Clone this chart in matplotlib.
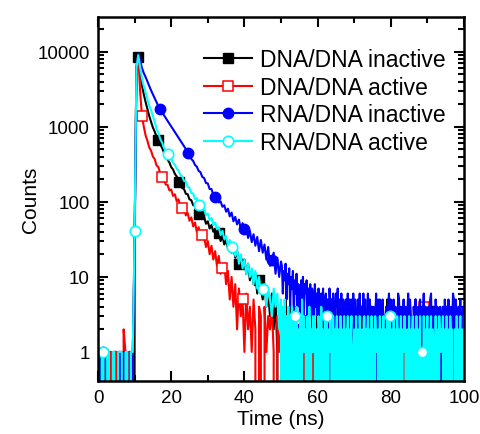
import numpy as np
import matplotlib
matplotlib.use("Agg")
import matplotlib.pyplot as plt
from matplotlib.ticker import FixedLocator, FixedFormatter, LogLocator, NullFormatter

plt.rcParams['font.family'] = ['Liberation Sans', 'DejaVu Sans']

# time axis: 0.5 ns bins up to 50 ns, 0.25 ns bins from 50 to 100 ns
time_ns = np.concatenate([np.arange(101) * 0.5, 50 + np.arange(1, 201) * 0.25])

dna_dna_inactive = [
    0, 1, 1, 0, 1, 1, 0, 1, 0, 1,
    1, 0, 1, 1, 0, 1, 0, 1, 1, 0,
    35, 6000, 8600, 5500, 3580, 2720, 2140, 1720, 1390, 1160,
    975, 860, 735, 675, 585, 525, 455, 415, 365, 335,
    290, 270, 236, 218, 185, 178, 152, 148, 128, 126,
    108, 105, 90, 88, 74, 68, 70, 59, 63, 51,
    55, 44, 49, 40, 43, 35, 39, 30, 35, 27,
    31, 24, 28, 21, 25, 18, 22, 15, 19, 13,
    17, 11, 15, 9, 12, 8, 11, 6, 9, 7,
    5, 8, 4, 6, 3, 6, 2, 5, 1, 0,
    4,
    4, 0, 3, 1, 5, 0, 3, 2, 0, 4,
    1, 3, 0, 2, 4, 0, 3, 1, 2, 0,
    3, 0, 2, 4, 0, 1, 3, 0, 2, 5,
    0, 2, 1, 3, 0, 4, 0, 2, 1, 3,
    0, 0, 2, 3, 0, 1, 4, 0, 2, 1,
    3, 0, 2, 0, 5, 1, 0, 3, 1, 2,
    0, 4, 1, 0, 2, 3, 0, 1, 2, 0,
    3, 1, 0, 2, 4, 0, 1, 3, 0, 2,
    1, 0, 3, 2, 0, 0, 2, 4, 0, 1,
    3, 0, 2, 1, 0, 5, 1, 2, 0, 3,
    0, 2, 1, 3, 0, 2, 4, 0, 1, 2,
    0, 3, 1, 0, 2, 5, 0, 2, 1, 3,
    0, 2, 4, 0, 1, 3, 0, 2, 1, 0,
    3, 1, 0, 2, 4, 0, 2, 1, 3, 0,
    2, 0, 1, 3, 0, 2, 5, 0, 1, 2,
    0, 0, 3, 1, 2, 0, 4, 1, 0, 2,
    3, 0, 1, 2, 0, 4, 0, 2, 3, 1,
    0, 2, 0, 0, 3, 1, 2, 0, 4, 1,
    0, 3, 2, 0, 1, 2, 0, 5, 1, 0,
    2, 3, 0, 1, 2, 0, 3, 1, 0, 2]

dna_dna_active = [
    1, 0, 0, 1, 1, 0, 1, 1, 0, 1,
    1, 0, 1, 0, 2, 1, 0, 1, 0, 1,
    30, 6500, 8800, 3000, 1400, 1010, 770, 650, 530, 480,
    400, 370, 305, 290, 238, 212, 200, 170, 168, 142,
    146, 120, 126, 102, 108, 86, 82, 80, 66, 71,
    56, 62, 47, 53, 40, 46, 33, 36, 34, 25,
    30, 20, 26, 17, 22, 14, 19, 11, 13, 15,
    8, 12, 5, 10, 4, 8, 2, 7, 3, 5,
    1, 6, 2, 4, 1, 5, 2, 0, 4, 3,
    0, 4, 1, 3, 2, 4, 1, 0, 3, 1,
    2,
    1, 0, 2, 0, 1, 3, 0, 2, 1, 0,
    2, 0, 1, 3, 0, 2, 1, 0, 2, 0,
    1, 2, 0, 0, 1, 3, 0, 2, 0, 1,
    0, 2, 1, 0, 3, 0, 1, 2, 0, 1,
    2, 0, 1, 0, 2, 0, 3, 1, 0, 2,
    0, 1, 2, 0, 1, 0, 3, 0, 2, 1,
    0, 2, 0, 1, 3, 0, 1, 0, 2, 0,
    1, 2, 0, 3, 0, 1, 0, 2, 1, 0,
    2, 0, 1, 0, 3, 1, 0, 2, 1, 0,
    2, 1, 0, 2, 0, 1, 3, 0, 1, 0,
    2, 0, 1, 2, 0, 3, 0, 1, 0, 2,
    1, 0, 2, 0, 1, 3, 0, 2, 0, 1,
    0, 2, 1, 0, 3, 0, 1, 2, 0, 1,
    0, 2, 1, 0, 2, 0, 1, 3, 0, 1,
    2, 0, 1, 0, 2, 1, 0, 3, 0, 1,
    0, 2, 1, 3, 0, 4, 0, 1, 2, 0,
    1, 0, 2, 1, 0, 3, 0, 1, 2, 0,
    1, 2, 0, 1, 0, 2, 3, 0, 1, 0,
    2, 1, 0, 2, 0, 1, 3, 0, 2, 0,
    1, 0, 2, 1, 0, 3, 1, 0, 2, 0]

rna_dna_inactive = [
    0, 1, 1, 1, 0, 1, 1, 0, 1, 1,
    0, 1, 1, 0, 1, 1, 1, 0, 0, 1,
    25, 5500, 9500, 7600, 6100, 5200, 4600, 4000, 3500, 3050,
    2700, 2400, 2100, 1880, 1700, 1560, 1430, 1310, 1200, 1100,
    1010, 925, 850, 780, 715, 655, 600, 550, 505, 450,
    418, 372, 350, 310, 294, 258, 248, 214, 208, 178,
    176, 148, 148, 124, 117, 112, 98, 101, 86, 90,
    74, 81, 64, 72, 55, 63, 50, 58, 44, 52,
    43, 46, 33, 41, 29, 37, 26, 34, 22, 31,
    21, 27, 17, 25, 14, 17, 21, 11, 18, 10,
    16,
    14, 6, 12, 9, 15, 5, 11, 8, 13, 4,
    10, 7, 12, 3, 9, 6, 11, 4, 8, 7,
    2, 9, 5, 10, 3, 8, 6, 9, 2, 7,
    5, 8, 3, 7, 6, 2, 8, 4, 6, 3,
    7, 5, 2, 6, 4, 7, 1, 5, 6, 3,
    5, 0, 7, 3, 5, 2, 6, 4, 1, 6,
    4, 7, 2, 5, 3, 6, 0, 5, 4, 2,
    5, 3, 6, 1, 5, 3, 5, 2, 6, 0,
    5, 3, 0, 5, 2, 6, 1, 4, 3, 6,
    2, 5, 0, 3, 6, 1, 5, 3, 4, 2,
    4, 1, 3, 6, 0, 5, 2, 5, 3, 1,
    5, 2, 0, 3, 4, 1, 4, 6, 2, 5,
    3, 0, 5, 2, 4, 3, 1, 6, 5, 2,
    4, 0, 3, 5, 2, 4, 1, 3, 6, 2,
    5, 3, 1, 0, 4, 2, 5, 3, 0, 4,
    3, 5, 1, 4, 2, 6, 0, 4, 3, 1,
    4, 2, 5, 6, 1, 3, 4, 0, 5, 2,
    4, 3, 1, 4, 3, 0, 4, 2, 5, 3,
    4, 1, 5, 3, 0, 4, 2, 6, 5, 1,
    5, 3, 0, 4, 2, 5, 1, 3, 4, 2]

rna_dna_active = [
    1, 0, 1, 1, 0, 1, 1, 0, 1, 1,
    0, 1, 1, 1, 0, 1, 1, 0, 1, 1,
    41, 6000, 9000, 6300, 4400, 3480, 2920, 2340, 1890, 1660,
    1390, 1160, 930, 830, 690, 615, 530, 485, 437, 395,
    372, 330, 312, 276, 262, 228, 219, 190, 186, 158,
    154, 131, 129, 108, 112, 91, 93, 78, 80, 66,
    70, 57, 61, 49, 53, 43, 46, 36, 41, 32,
    35, 26, 31, 25, 26, 19, 23, 15, 20, 13,
    17, 11, 15, 10, 13, 8, 12, 7, 10, 6,
    7, 8, 4, 7, 5, 3, 7, 4, 6, 2,
    5,
    0, 4, 0, 5, 1, 3, 0, 4, 0, 3,
    1, 4, 0, 2, 3, 0, 4, 0, 2, 1,
    3, 0, 5, 1, 3, 1, 2, 0, 3, 0,
    4, 0, 2, 1, 3, 1, 3, 0, 2, 0,
    3, 1, 0, 4, 0, 2, 0, 3, 1, 3,
    0, 2, 1, 3, 1, 0, 3, 0, 2, 1,
    3, 0, 2, 0, 3, 1, 2, 0, 3, 0,
    2, 1, 3, 0, 2, 1, 3, 0, 1, 2,
    0, 3, 0, 2, 0, 3, 1, 0, 2, 0,
    3, 0, 2, 1, 3, 0, 2, 0, 3, 0,
    2, 0, 3, 1, 1, 2, 0, 3, 0, 2,
    1, 3, 0, 2, 0, 3, 0, 2, 3, 0,
    2, 0, 3, 1, 2, 0, 3, 0, 2, 0,
    3, 0, 2, 1, 3, 1, 0, 2, 0, 3,
    0, 2, 1, 3, 0, 2, 0, 3, 0, 2,
    0, 3, 0, 1, 0, 3, 0, 2, 1, 3,
    0, 2, 1, 3, 0, 2, 1, 0, 3, 0,
    2, 0, 3, 1, 2, 1, 3, 0, 2, 0,
    3, 0, 2, 0, 3, 1, 2, 0, 0, 2,
    0, 3, 0, 2, 1, 3, 0, 2, 0, 3]

labels = ["DNA/DNA inactive", "DNA/DNA active", "RNA/DNA inactive", "RNA/DNA active"]
x_ticks = [0, 20, 40, 60, 80, 100]
y_ticks = [1, 10, 100, 1000, 10000]
y_tick_labels = ["1", "10", "100", "1000", "10000"]

series = [dna_dna_inactive, dna_dna_active, rna_dna_inactive, rna_dna_active]
styles = [
    dict(color="#000000", marker="s", mfc="#000000", mec="#000000", ms=6.5,
         markevery=list(range(0, 101, 11)) + [120, 142, 164, 186, 208, 230, 252, 274, 296]),
    dict(color="#FF0000", marker="s", mfc="white", mec="#FF0000", ms=6.5, mew=1.1,
         markevery=list(range(2, 101, 11)) + [102, 124, 146, 168, 190, 212, 234, 256, 278, 300]),
    dict(color="#0000FF", marker="o", mfc="#0000FF", mec="#0000FF", ms=7.5,
         markevery=[3, 18, 34, 49, 64, 80, 95, 121, 152, 183, 213, 244, 272]),
    dict(color="#00FFFF", marker="o", mfc="white", mec="#00FFFF", ms=7.5, mew=1.2,
         markevery=[3, 20, 38, 55, 73, 90, 115, 150, 185, 219, 254, 289]),
]

fig = plt.figure(figsize=(4.8, 4.35), dpi=100)
ax = fig.add_axes([98/480, 53/435, 366/480, 364/435])
ax.set_yscale("log", nonpositive="clip")

for vals, lab, st in zip(series, labels, styles):
    ax.plot(time_ns, np.array(vals, dtype=float), lw=1.5, label=lab, **st)

ax.set_xlim(0, 100)
ax.set_ylim(0.41, 29000)

ax.xaxis.set_major_locator(FixedLocator(x_ticks))
ax.xaxis.set_minor_locator(FixedLocator([10, 30, 50, 70, 90]))
ax.yaxis.set_major_locator(FixedLocator(y_ticks))
ax.yaxis.set_major_formatter(FixedFormatter(y_tick_labels))
ax.yaxis.set_minor_locator(LogLocator(base=10, subs=np.arange(2, 10), numticks=20))
ax.yaxis.set_minor_formatter(NullFormatter())

ax.tick_params(which="both", direction="in", top=True, right=True, width=1.5)
ax.tick_params(which="major", length=7, labelsize=13.5, pad=6)
ax.tick_params(which="minor", length=4)
for s in ax.spines.values():
    s.set_linewidth(1.8)

ax.set_xlabel("Time (ns)", fontsize=15, labelpad=2)
ax.set_ylabel("Counts", fontsize=15, labelpad=-2)

leg = ax.legend(loc="upper left", bbox_to_anchor=(0.29, 0.915), frameon=False,
                fontsize=16.5, handlelength=2.1, handletextpad=0.35,
                labelspacing=0.2, borderpad=0, borderaxespad=0)

fig.savefig("out.png", dpi=100)
